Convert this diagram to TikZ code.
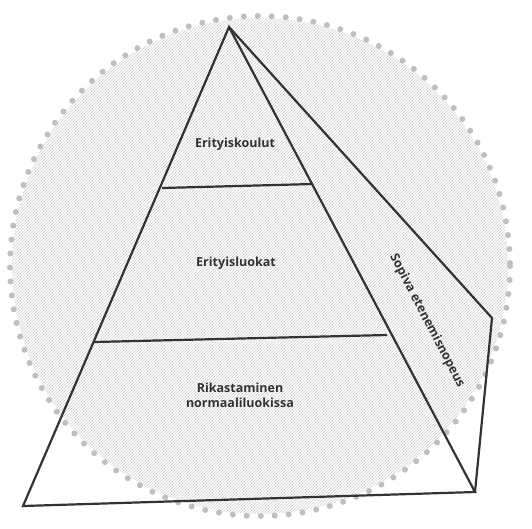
\documentclass[tikz,border=0pt]{standalone}
\usepackage{fontspec}
\setmainfont{Open Sans}
\usetikzlibrary{patterns}
\begin{document}
\begin{tikzpicture}[x=1pt,y=-1pt,
  edge/.style={draw=black!80,line width=2.2pt,line join=miter},
  lbl/.style={font=\fontsize{12.5}{15}\selectfont\bfseries,text=black!80,align=center,inner sep=0pt}]
\useasboundingbox (0,0) rectangle (532,528);
% hatched disc
\fill[pattern=north east lines,pattern color=black!20] (260,266) circle (248);
\draw[black!25,line width=6pt,line cap=round,dash pattern=on 0pt off 14pt] (260,266) circle (250);
% points
\coordinate (A) at (229,27);
\coordinate (BL) at (23,506);
\coordinate (BR) at (475,492);
\coordinate (R) at (492,318);
\coordinate (L1) at (162,188);
\coordinate (R1) at (313,184);
\coordinate (L2) at (94,342);
\coordinate (R2) at (387,335);
\draw[edge] (A) -- (BL) -- (BR) -- cycle;
\draw[edge] (A) -- (R) -- (BR);
\draw[edge] (L1) -- (R1);
\draw[edge] (L2) -- (R2);
\node[lbl] (t1) at (235,144) {Erityiskoulut};
\node[lbl] (t2) at (236,263) {Erityisluokat};
\node[lbl] (t3) at (240,395) {Rikastaminen\\normaaliluokissa};
\node[lbl,rotate=-62.5] (t4) at (427,321) {Sopiva etenemisnopeus};
\end{tikzpicture}
\end{document}
